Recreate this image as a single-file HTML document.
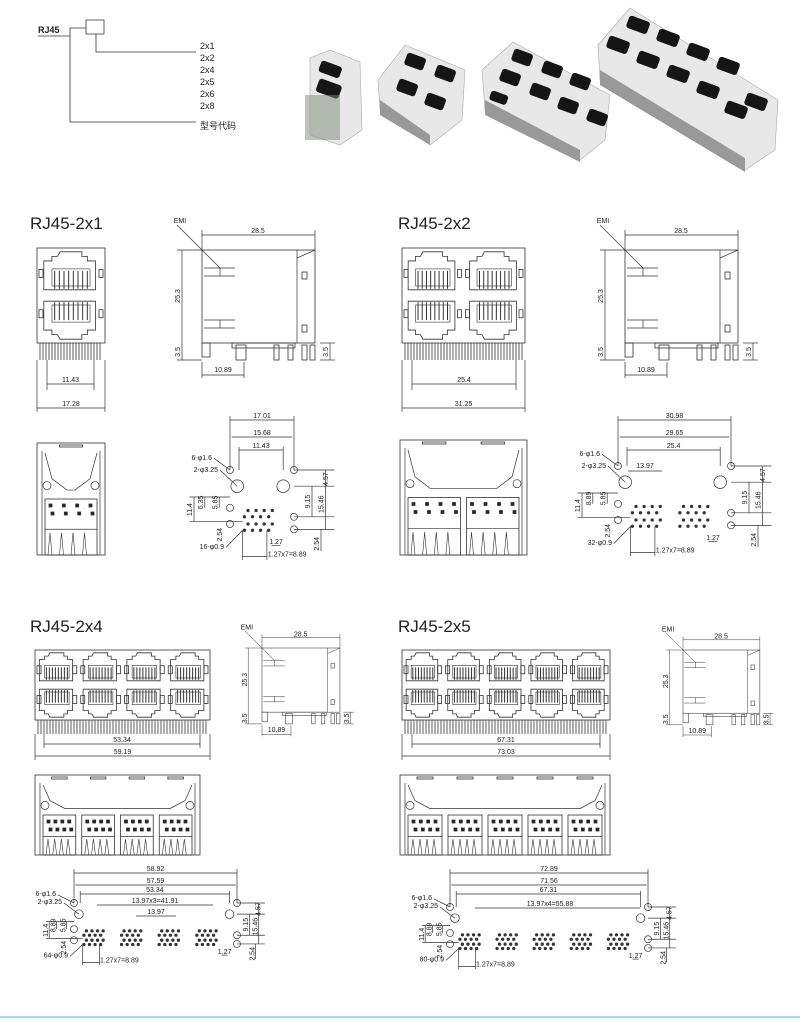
<!DOCTYPE html>
<html><head><meta charset="utf-8"><style>
html,body{margin:0;padding:0;background:#fff;width:800px;height:1023px;overflow:hidden}
svg text{font-family:"Liberation Sans","Noto Sans CJK SC",sans-serif;fill:#222}
</style></head><body>
<svg id="s" width="800" height="1023" viewBox="0 0 800 1023" xmlns="http://www.w3.org/2000/svg">
<g stroke="#333" stroke-width="0.8" fill="none">
<text x="38" y="33" font-size="9" font-weight="bold" stroke="none" font-family="Liberation Serif">RJ45</text>
<path d="M38 36H70M70 36V28H86M86 20h18v14h-18zM96 34V52H196M70 36V122H196"/>
</g>
<g font-size="9" stroke="none">
<text x="200" y="49">2x1</text><text x="200" y="61">2x2</text><text x="200" y="73">2x4</text>
<text x="200" y="85">2x5</text><text x="200" y="97">2x6</text><text x="200" y="109">2x8</text>
<text x="200" y="129">型号代码</text>
</g>
<g font-size="17" stroke="none">
<text x="30" y="229">RJ45-2x1</text><text x="398" y="229">RJ45-2x2</text>
<text x="30" y="632">RJ45-2x4</text><text x="398" y="632">RJ45-2x5</text>
</g>
<line x1="0" y1="1017" x2="800" y2="1017" stroke="#9cc9e8" stroke-width="1.5"/>
<g id="dyn"></g>
</svg>
<script>
let o='';let FS=7;
const L=(a,b,c,d,w)=>o+=`<line x1="${a}" y1="${b}" x2="${c}" y2="${d}" stroke="#333" stroke-width="${w||0.7}"/>`;
const R=(x,y,w,h,f,sw)=>o+=`<rect x="${x}" y="${y}" width="${w}" height="${h}" fill="${f||'none'}" stroke="#333" stroke-width="${sw||0.8}"/>`;
const C=(x,y,r,f)=>o+=`<circle cx="${x}" cy="${y}" r="${r}" fill="${f||'none'}" stroke="#333" stroke-width="0.7"/>`;
const T=(x,y,t,s,rot)=>o+=`<text x="${x}" y="${y}" font-size="${s||FS}" text-anchor="middle" ${rot?`transform="rotate(-90 ${x} ${y})"`:''}>${t}</text>`;
const HD=(x1,x2,y,t)=>{L(x1,y,x2,y);if(t)T((x1+x2)/2,y-2,t)};

function photo(pts,ports){
 o+=`<polygon points="${pts}" fill="#e8e8e8" stroke="#aaa" stroke-width="0.6"/>`;
 ports.forEach(p=>o+=`<rect x="${p[0]}" y="${p[1]}" width="${p[2]}" height="${p[3]}" rx="3" fill="#151515" transform="rotate(20 ${p[0]} ${p[1]})"/>`);
}
photo("310,58 330,50 360,62 362,130 340,145 310,135",[[322,60,22,12],[320,78,24,14]]);
o+=`<rect x="305" y="95" width="35" height="45" fill="#7a8a7a" opacity="0.5"/>`;
photo("378,80 405,45 465,70 462,120 430,145 380,110",[[408,52,20,13],[438,64,20,13],[400,78,20,13],[428,92,20,13]]);
o+=`<polygon points="380,100 430,135 430,145 380,115" fill="#999"/>`;
photo("482,70 513,42 610,95 605,140 580,160 485,110",[[515,48,20,13],[545,60,20,13],[573,72,20,13],[503,68,20,13],[533,82,20,13],[561,96,20,13],[590,108,20,13],[492,90,18,10]]);
o+=`<polygon points="485,100 580,150 580,162 485,115" fill="#999"/>`;
photo("598,45 630,8 778,100 775,150 745,170 600,80",[[630,15,22,13],[660,28,22,13],[690,42,22,13],[720,56,22,13],[748,92,22,13],[610,35,22,13],[640,50,22,13],[670,64,22,13],[700,80,22,13],[728,100,22,13]]);
o+=`<polygon points="600,70 745,158 745,172 600,85" fill="#999"/>`;

function port(x,y,w,h,inv){
 const g=inv?`transform="translate(0 ${2*y+h}) scale(1 -1)"`:'';
 o+=`<g ${g}>`;
 o+=`<path d="M${x+w*.3} ${y}h${w*.4}v${h*.12}h${w*.1}v${h*.12}h${w*.15}v${h*.76}h${-w*.95}v${-h*.76}h${w*.15}v${-h*.12}h${w*.1}z" fill="none" stroke="#333" stroke-width="0.8"/>`;
 const cy=y+h*.45;R(x+w*.15,cy,w*.7,h*.45,'#fff',0.6);
 for(let i=0;i<8;i++)L(x+w*.2+i*w*.6/7,cy+2,x+w*.2+i*w*.6/7,y+h-1,1);
 o+=`</g>`;
}
function front(x,y,w,h,n,pinH){
 R(x,y,w,h);
 const cw=w/n, ph=h/2;
 for(let i=0;i<n;i++){
  port(x+i*cw+cw*.1,y+ph*.08,cw*.8,ph*.8,0);
  port(x+i*cw+cw*.1,y+ph+ph*.12,cw*.8,ph*.8,1);
  R(x+i*cw+2,y+ph*.45,4,8);R(x+i*cw+cw-6,y+ph*.45,4,8);
  R(x+i*cw+2,y+ph*1.3,4,8);R(x+i*cw+cw-6,y+ph*1.3,4,8);
 }
 for(let px=x+3;px<x+w-2;px+=3)L(px,y+h,px,y+h+pinH,0.8);
}
front(37,248,68,95,1,17);
L(47,360,47,390);L(94,360,94,390);HD(47,94,384,'11.43');
L(37,360,37,412);L(105,360,105,412);HD(37,105,408,'17.28');
front(402,248,123,95,2,17);
L(412,360,412,390);L(516,360,516,390);HD(412,516,384,'25.4');
L(402,360,402,412);L(525,360,525,412);HD(402,525,408,'31.25');
front(35,650,175,70,4,14);
L(44,734,44,748);L(200,734,200,748);HD(44,200,744,'53.34');
L(35,734,35,760);L(210,734,210,760);HD(35,210,756,'59.19');
front(402,650,208,70,5,14);
L(412,734,412,748);L(600,734,600,748);HD(412,600,744,'67.31');
L(402,734,402,760);L(610,734,610,760);HD(402,610,756,'73.03');

function side(x,y,s){
 const oo=o;o='';FS=7/s;
 R(0,0,113,93);L(95,0,95,93);L(95,8,113,0);
 R(100,22,5,7);R(100,75,5,7);
 L(2,18,33,18);L(2,26,33,26);L(18,18,18,26);L(2,70,33,70);L(2,78,33,78);L(18,70,18,78);
 R(30,93,63,5);
 [[0,93,8,14],[34,95,10,15],[72,95,5,15],[86,95,5,15],[100,95,5,15],[108,95,5,15]].forEach(p=>R(p[0],p[1],p[2],p[3]));
 L(0,-15,113,-15);L(0,-20,0,0);L(113,-20,113,0);T(56,-17,'28.5');
 L(-25,0,0,0);L(-25,110,0,110);L(-20,0,-20,93);T(-22,46,'25.3',0,1);
 L(-20,93,-20,110);T(-22,102,'3.5',0,1);
 L(118,93,133,93);L(118,110,133,110);L(128,93,128,110);T(126,102,'3.5',0,1);
 L(0,112,0,128);L(42,112,42,128);L(0,125,42,125);T(21,122,'10.89');
 L(-25,-25,18,18);T(-22,-27,'EMI');
 const inner=o;o=oo+`<g transform="translate(${x} ${y}) scale(${s})">`+inner+'</g>';FS=7;
}
side(202,250,1);side(625,250,1);side(262,648,0.69);side(683,650,0.68);

function bottom(x,y,w,h,n){
 R(x,y,w,h);
 const cw=(w-10)/n;
 o+=`<path d="M${x+8} ${y+10}L${x+15} ${y+h*.32}L${x+30} ${y+h*.42}H${x+w-30}L${x+w-15} ${y+h*.32}L${x+w-8} ${y+10}" fill="none" stroke="#333" stroke-width="0.7"/>`;
 L(x+5,y+8,x+5,y+h);L(x+w-5,y+8,x+w-5,y+h);
 C(x+10,y+h*.38,4);C(x+w-10,y+h*.38,4);
 for(let i=0;i<n;i++){
  const bx=x+5+i*cw+3,bw=cw-6,by=y+h*.5;
  R(bx,by,bw,h*.5);
  for(let k=0;k<4;k++){R(bx+4+k*(bw-12)/3,by+5,3,3,'#222');R(bx+6+k*(bw-12)/3,by+13,3,3,'#222');}
  L(bx,by+h*.27,bx+bw,by+h*.27);
  for(let k=0;k<4;k++){const px=bx+3+k*(bw-6)/4;o+=`<path d="M${px} ${y+h}L${px+2} ${by+h*.3}L${px+4} ${y+h}" fill="none" stroke="#333" stroke-width="0.6"/>`;}
  R(x+5+i*cw+cw*.3,y+2,cw*.4,2);
 }
}
bottom(37,443,68,112,1);bottom(400,440,127,115,2);bottom(35,775,165,80,4);bottom(400,775,210,80,5);

function fp(x0,y0,spanW,n,s,labels,d){
 const xr=x0+spanW;
 C(x0,y0,3.5);C(xr,y0,3.5);
 C(x0+8*s,y0+18*s,7*s);C(xr-12*s,y0+18*s,7*s);
 C(x0,y0+42*s,3.5);C(xr,y0+52*s,3.5);C(x0,y0+60*s,3.5);C(xr,y0+66*s,3.5);
 const pw=(spanW-20*s)/n;
 for(let i=0;i<n;i++){
  const bx=x0+14*s+i*pw;
  for(let k=0;k<4;k++){
   C(bx+6*s+k*9*s,y0+45*s,1.3,'#333');C(bx+k*9*s+2*s,y0+52*s,1.3,'#333');
   C(bx+6*s+k*9*s,y0+60*s,1.3,'#333');C(bx+k*9*s+2*s,y0+67*s,1.3,'#333');
  }
 }
 L(x0-45*s,y0+30*s,x0,y0+30*s);L(x0-45*s,y0+57*s,x0+14*s,y0+57*s);
 L(x0,y0+d[0]-4,x0,y0);L(xr,y0+d[0]-4,xr,y0);
 L(xr,y0,xr+45*s,y0);L(xr,y0+18*s,xr+45*s,y0+18*s);L(xr,y0+52*s,xr+45*s,y0+52*s);L(xr,y0+66*s,xr+45*s,y0+66*s);
 L(xr+35*s,y0,xr+35*s,y0+66*s);L(xr+20*s,y0+18*s,xr+20*s,y0+52*s);
 T(xr+38*s,y0+10*s,labels[4],7,1);T(xr+18*s,y0+35*s,labels[5],7,1);T(xr+33*s,y0+38*s,labels[6],7,1);
 L(x0-40*s,y0+30*s,x0-40*s,y0+57*s);T(x0-42*s,y0+44*s,'11.4',7,1);
 L(x0-28*s,y0+30*s,x0-28*s,y0+42*s);T(x0-30*s,y0+36*s,labels[7],7,1);
 L(x0-12*s,y0+30*s,x0-12*s,y0+42*s);T(x0-14*s,y0+36*s,'5.85',7,1);
 HD(x0,xr,y0+d[0],labels[0]);HD(x0+2*s,xr-2*s,y0+d[1],labels[1]);
 L(x0+10*s,y0+d[2]-3,x0+10*s,y0);L(xr-12*s,y0+d[2]-3,xr-12*s,y0);HD(x0+10*s,xr-12*s,y0+d[2],labels[2]);
 o+=`<text x="${x0-18}" y="${y0-11*s}" font-size="7" text-anchor="end">6-φ1.6</text>`;L(x0-16,y0-13*s,x0,y0);
 o+=`<text x="${x0-12}" y="${y0+2*s}" font-size="7" text-anchor="end">2-φ3.25</text>`;L(x0-10,y0,x0+8*s,y0+18*s);
 o+=`<text x="${x0-6}" y="${y0+88*s}" font-size="7" text-anchor="end">${labels[3]}</text>`;L(x0-4,y0+86*s,x0+14*s,y0+67*s);
 const bx=x0+14*s;
 L(bx,y0+67*s,bx,y0+100*s);L(bx+27*s,y0+67*s,bx+27*s,y0+100*s);HD(bx,bx+27*s,y0+96*s,'');
 o+=`<text x="${bx+28*s}" y="${y0+96*s}" font-size="7">1.27x7=8.89</text>`;
 L(xr-25*s,y0+84*s,xr-15*s,y0+84*s);T(xr-20*s,y0+82*s,'1.27');
 L(xr+30*s,y0+66*s,xr+30*s,y0+90*s);T(xr+28*s,y0+82*s,'2.54',7,1);
 T(x0-8,y0+72*s,'2.54',7,1);
}
fp(230,470,64,1,0.9,['17.01','15.68','11.43','16-φ0.9','4.57','9.15','15.46','6.35'],[-50,-33,-20]);
fp(618,466,113,2,0.9,['30.98','29.65','25.4','32-φ0.9','4.57','9.15','15.46','8.89'],[-46,-29,-16]);
fp(74,903,163,4,0.62,['58.92','57.59','53.34','64-φ0.9','4.57','9.15','15.46','8.89'],[-30,-18,-9]);
fp(450,907,198,5,0.62,['72.89','71.56','67.31','80-φ0.9','4.57','9.15','15.46','8.89'],[-34,-22,-13]);
o+=`<text x="155" y="903" font-size="7" text-anchor="middle">13.97x3=41.91</text>`;L(97,905,213,905);
o+=`<text x="156" y="914" font-size="7" text-anchor="middle">13.97</text>`;L(136,916,176,916);
o+=`<text x="550" y="906" font-size="7" text-anchor="middle">13.97x4=55.88</text>`;L(475,908,640,908);
o+=`<text x="645" y="468" font-size="7" text-anchor="middle">13.97</text>`;L(628,471,662,471);
document.getElementById('dyn').innerHTML=o;
</script>
</body></html>
